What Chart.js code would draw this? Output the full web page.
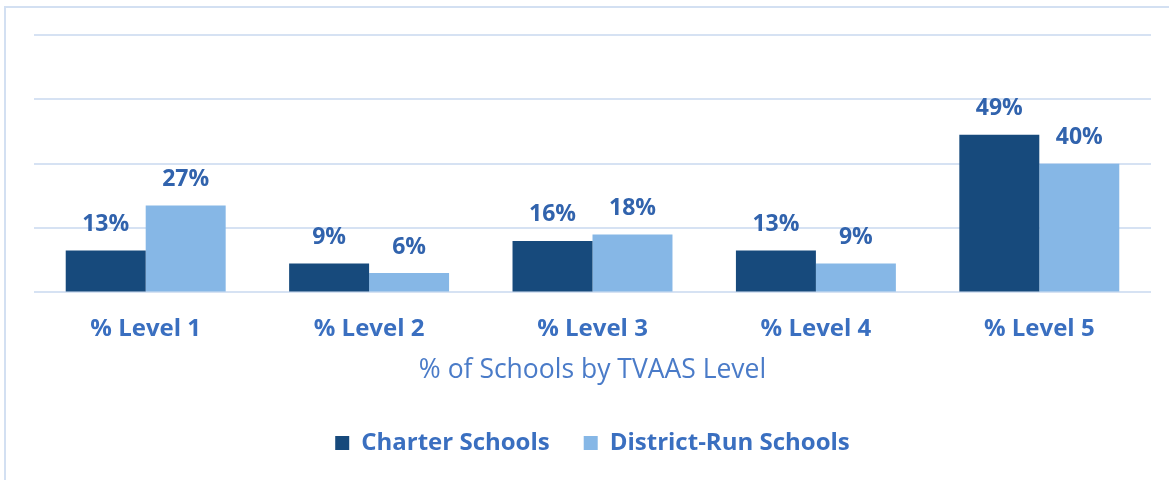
<!DOCTYPE html>
<html>
<head>
<meta charset="utf-8">
<script src="https://cdn.jsdelivr.net/npm/chart.js@4.4.1/dist/chart.umd.min.js"></script>
<style>
  html, body { margin: 0; padding: 0; background: #ffffff; }
  #frame {
    position: absolute; left: 4px; top: 6px; width: 1300px; height: 600px;
    border-left: 2px solid #d3e0f2; border-top: 2px solid #d3e0f2;
  }
  #wrap { position: absolute; left: 0; top: 0; width: 1169px; height: 480px; }
</style>
</head>
<body>
<div id="frame"></div>
<div id="wrap"><canvas id="myChart" width="1169" height="480"></canvas></div>
<script>
let categories = ["% Level 1", "% Level 2", "% Level 3", "% Level 4", "% Level 5"];
let charterValues = [13, 9, 16, 13, 49];
let districtValues = [27, 6, 18, 9, 40];
let seriesNames = ["Charter Schools", "District-Run Schools"];
let axisTitle = "% of Schools by TVAAS Level";

// draws the % labels above each bar
let barLabels = {
  id: "barLabels",
  afterDatasetsDraw(chart) {
    let ctx = chart.ctx;
    ctx.save();
    ctx.font = "bold 23px 'Open Sans'";
    ctx.fillStyle = "#3163ad";
    ctx.textAlign = "center";
    ctx.textBaseline = "middle";
    chart.data.datasets.forEach((ds, i) => {
      let meta = chart.getDatasetMeta(i);
      meta.data.forEach((bar, j) => {
        ctx.fillText(ds.data[j] + "%", bar.x, bar.y - 26);
      });
    });
    ctx.restore();
  },
};

let ctx = document.getElementById("myChart").getContext("2d");
let myChart = new Chart(ctx, {
  type: "bar",
  data: {
    labels: categories,
    datasets: [
      {
        label: seriesNames[0],
        data: charterValues,
        backgroundColor: "#174a7c",
      },
      {
        label: seriesNames[1],
        data: districtValues,
        backgroundColor: "#86b7e6",
      },
    ],
  },
  options: {
    responsive: false,
    animation: false,
    layout: { padding: { left: 34, right: 18, top: 35, bottom: 15 } },
    datasets: {
      bar: { categoryPercentage: 0.716, barPercentage: 1 },
    },
    scales: {
      y: {
        min: 0,
        max: 80,
        ticks: { display: false, stepSize: 20 },
        grid: { color: "#d6e2f3", lineWidth: 2, drawTicks: false },
        border: { display: false },
      },
      x: {
        grid: { display: false },
        border: { display: false },
        ticks: {
          padding: 14,
          color: "#3a6fc0",
          font: { family: "'Open Sans'", size: 24, weight: "bold" },
        },
        title: {
          display: true,
          text: axisTitle,
          color: "#4a7bc8",
          padding: { top: -3, bottom: 11 },
          font: { family: "'Open Sans'", size: 26.5 },
        },
      },
    },
    plugins: {
      tooltip: { enabled: false },
      legend: {
        position: "bottom",
        labels: {
          boxWidth: 14,
          boxHeight: 14,
          padding: 34,
          color: "#3a6fc0",
          font: { family: "'Open Sans'", size: 24, weight: "bold" },
        },
      },
    },
  },
  plugins: [barLabels],
});
</script>
</body>
</html>
